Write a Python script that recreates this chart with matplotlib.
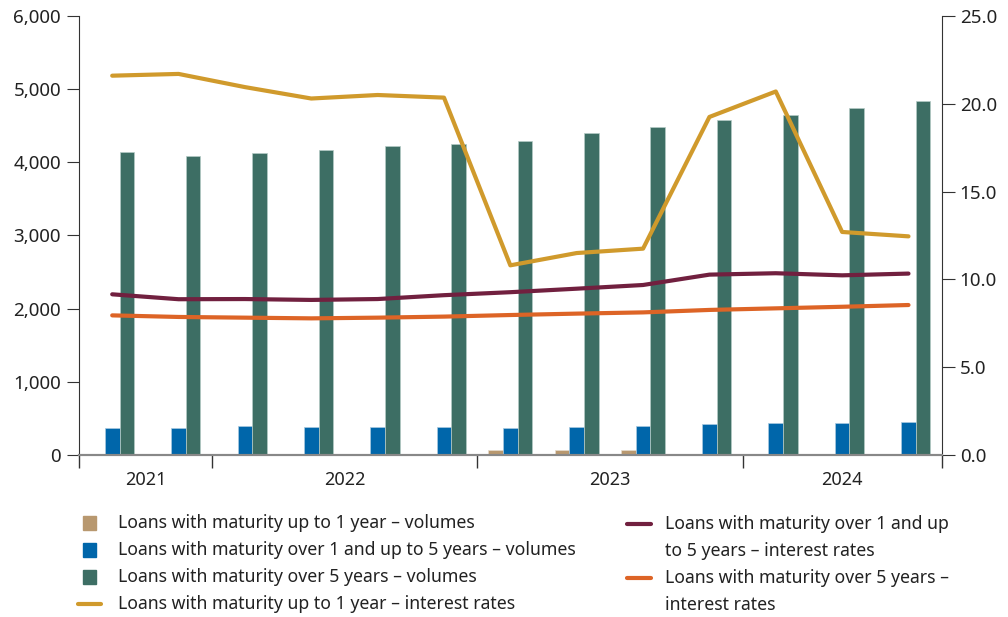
import matplotlib
matplotlib.use("Agg")
import matplotlib.pyplot as plt
from matplotlib.patches import Rectangle
from matplotlib.lines import Line2D
import numpy as np

plt.rcParams['font.family'] = ['Noto Sans', 'DejaVu Sans']

# quarterly data, 2021 Q3 - 2024 Q3
years = ["2021", "2022", "2023", "2024"]
year_counts = [2, 4, 4, 3]

vol_short = [8, 8, 8, 8, 8, 8, 68, 68, 68, 8, 8, 8, 8]
vol_mid = [365, 369, 392, 387, 387, 387, 369, 383, 396, 424, 433, 437, 446]
vol_long = [4137, 4087, 4127, 4164, 4223, 4255, 4291, 4397, 4483, 4574, 4647, 4738, 4838]

rate_short = [21.6, 21.7, 20.95, 20.3, 20.5, 20.35, 10.8, 11.5, 11.75, 19.25, 20.7, 12.7, 12.45]
rate_mid = [9.15, 8.87, 8.88, 8.83, 8.88, 9.1, 9.27, 9.47, 9.68, 10.27, 10.35, 10.23, 10.33]
rate_long = [7.95, 7.86, 7.82, 7.78, 7.82, 7.88, 7.97, 8.05, 8.12, 8.26, 8.35, 8.44, 8.54]

c_tan = "#B8986F"
c_blue = "#0066AA"
c_green = "#3D6E64"
c_gold = "#D09A2C"
c_maroon = "#71203F"
c_orange = "#DD6426"
txt = "#222222"

fig = plt.figure(figsize=(10.08, 6.17), dpi=100)
ax = fig.add_axes([0.0784, 0.2626, 0.8558, 0.7115])
ax2 = ax.twinx()

x = np.arange(len(vol_long))
w = 0.22
ax.bar(x - w, vol_short, w, color=c_tan, edgecolor="#e6dccd", linewidth=0.5, zorder=2)
ax.bar(x, vol_mid, w, color=c_blue, edgecolor="#a9c9e0", linewidth=0.5, zorder=2)
ax.bar(x + w, vol_long, w, color=c_green, edgecolor="#b5cbc6", linewidth=0.5, zorder=2)

ax2.plot(x, rate_short, color=c_gold, lw=3, solid_capstyle="round", zorder=3)
ax2.plot(x, rate_mid, color=c_maroon, lw=3, solid_capstyle="round", zorder=3)
ax2.plot(x, rate_long, color=c_orange, lw=3, solid_capstyle="round", zorder=3)

ax.set_xlim(-0.5, len(x) - 0.5)
ax.set_ylim(0, 6000)
ax2.set_ylim(0, 25)
ax.set_yticks(range(0, 6001, 1000))
ax.set_yticklabels([f"{v:,}" for v in range(0, 6001, 1000)])
ax2.set_yticks([0, 5, 10, 15, 20, 25])
ax2.set_yticklabels([f"{v:.1f}" for v in [0, 5, 10, 15, 20, 25]])

# year separators and labels
bounds = np.concatenate([[0], np.cumsum(year_counts)]) - 0.5
ax.set_xticks(bounds)
ax.set_xticklabels([])
ax.tick_params(axis="x", length=9, width=1, color="#333333", direction="out")
for i, y in enumerate(years):
    ax.text((bounds[i] + bounds[i + 1]) / 2, -0.036, y, transform=ax.get_xaxis_transform(),
            ha="center", va="top", fontsize=13, color=txt)

for a in (ax, ax2):
    a.spines["top"].set_visible(False)
    a.spines["left"].set_color("#333333")
    a.spines["right"].set_color("#333333")
    a.spines["bottom"].set_color("#888888")
    a.spines["bottom"].set_linewidth(1.5)
ax2.spines["left"].set_visible(False)
ax.spines["right"].set_visible(False)
ax.tick_params(axis="y", length=9, color="#333333", labelsize=13.5, labelcolor=txt, pad=4)
ax2.tick_params(axis="y", length=9, color="#333333", labelsize=13.5, labelcolor=txt, pad=4)
ax.set_zorder(1)
ax2.set_zorder(2)
ax2.patch.set_visible(False)

# legend
H = 617.0
W = 1008.0
def fx(px):
    return px / W
def fy(py):
    return 1 - py / H

items_left = [
    ("patch", c_tan, "Loans with maturity up to 1 year – volumes", 523),
    ("patch", c_blue, "Loans with maturity over 1 and up to 5 years – volumes", 550),
    ("patch", c_green, "Loans with maturity over 5 years – volumes", 577),
    ("line", c_gold, "Loans with maturity up to 1 year – interest rates", 604),
]
for kind, col, label, py in items_left:
    if kind == "patch":
        fig.patches.append(Rectangle((fx(83), fy(py + 7)), fx(13), 14 / H, color=col,
                                     transform=fig.transFigure, figure=fig))
    else:
        fig.lines.append(Line2D([fx(78), fx(101)], [fy(py), fy(py)], color=col, lw=3,
                                solid_capstyle="round", transform=fig.transFigure, figure=fig))
    fig.text(fx(118), fy(py), label, ha="left", va="center", fontsize=12.7, color=txt)

items_right = [
    (c_maroon, "Loans with maturity over 1 and up", "to 5 years – interest rates", 524),
    (c_orange, "Loans with maturity over 5 years –", "interest rates", 578),
]
for col, l1, l2, py in items_right:
    fig.lines.append(Line2D([fx(627), fx(651)], [fy(py), fy(py)], color=col, lw=3,
                            solid_capstyle="round", transform=fig.transFigure, figure=fig))
    fig.text(fx(665), fy(py), l1, ha="left", va="center", fontsize=12.7, color=txt)
    fig.text(fx(665), fy(py + 27), l2, ha="left", va="center", fontsize=12.7, color=txt)

fig.savefig("out.png", dpi=100)
